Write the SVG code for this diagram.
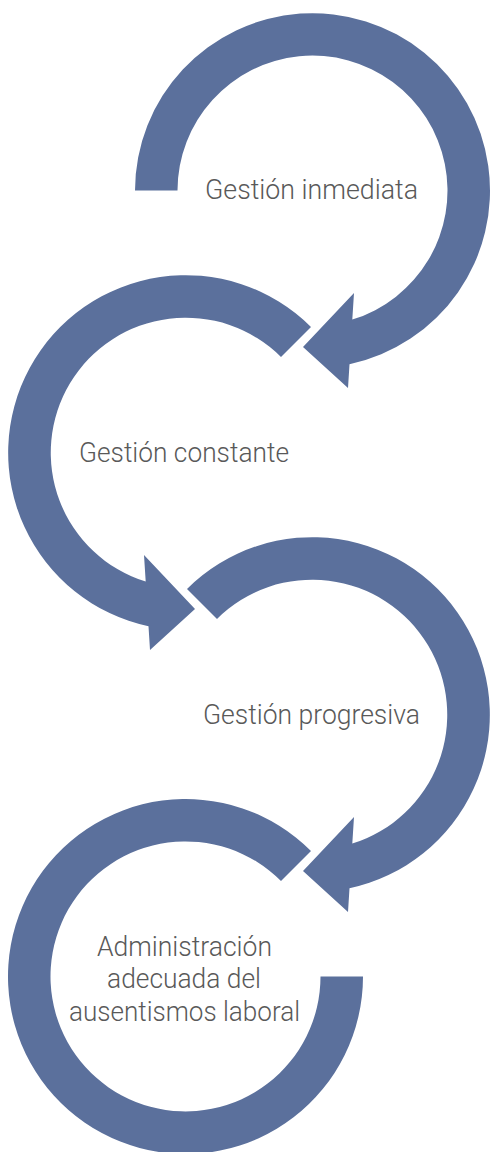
<svg xmlns="http://www.w3.org/2000/svg" width="492" height="1152" viewBox="0 0 492 1152">
<style>
.arr{fill:#5B709C;stroke:none}
.lbl{font-family:Roboto,"Open Sans","Liberation Sans",sans-serif;font-weight:300;font-size:28px;fill:#595959;text-anchor:middle}
</style>
<rect width="492" height="1152" fill="#ffffff"/>
<g id="connectors"></g>
<g id="node1">
<path class="arr" d="M135,190.5 A177.5,177.5 0 1 1 349.5,364.25 L348,388 L303,347 L354,293 L352.3,319.6 A135,135 0 1 0 177.5,190.5 Z"/>
<text class="lbl" x="311.5" y="199" textLength="213" lengthAdjust="spacingAndGlyphs">Gestión inmediata</text>
</g>
<g id="node2">
<path class="arr" d="M311,327 A177.5,177.5 0 1 0 148.5,626.25 L150,650 L195,609 L144,555 L145.7,581.6 A135,135 0 1 1 281,357 Z"/>
<text class="lbl" x="184" y="462" textLength="210" lengthAdjust="spacingAndGlyphs">Gestión constante</text>
</g>
<g id="node3">
<path class="arr" d="M187,589 A177.5,177.5 0 1 1 349.5,888.25 L348,912 L303,871 L354,817 L352.3,843.6 A135,135 0 1 0 217,619 Z"/>
<text class="lbl" x="311.5" y="724" textLength="217" lengthAdjust="spacingAndGlyphs">Gestión progresiva</text>
</g>
<g id="node4">
<path class="arr" d="M311,851 A177.5,177.5 0 1 0 363,976.5 L320.5,976.5 A135,135 0 1 1 281,881 Z"/>
<text class="lbl" x="184.5" y="956" textLength="175" lengthAdjust="spacingAndGlyphs">Administración</text>
<text class="lbl" x="184" y="988" textLength="154" lengthAdjust="spacingAndGlyphs">adecuada del</text>
<text class="lbl" x="184.5" y="1021" textLength="231" lengthAdjust="spacingAndGlyphs">ausentismos laboral</text>
</g>
</svg>
